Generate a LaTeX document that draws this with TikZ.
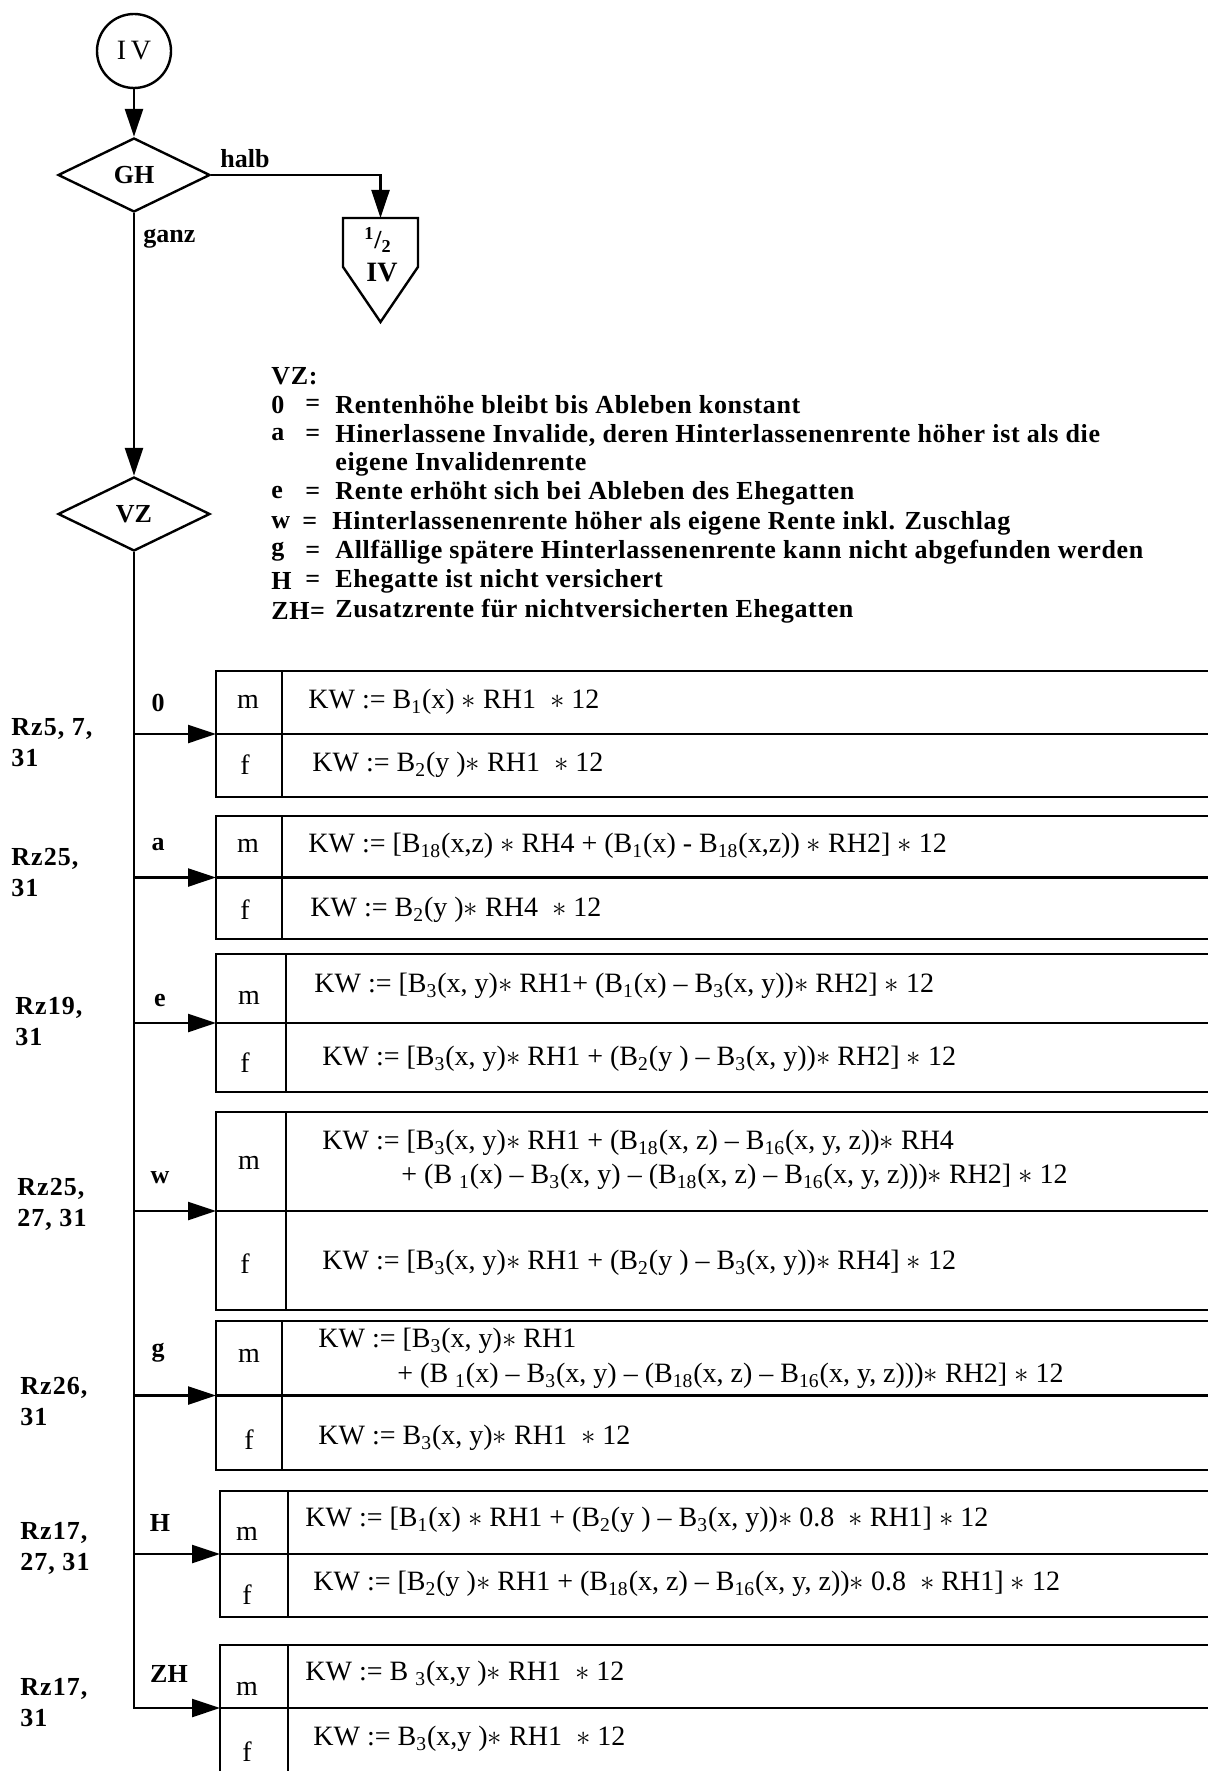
\documentclass[tikz,border=0pt]{standalone}
\usepackage{fontspec}
\setmainfont{Liberation Serif}
\newfontfamily\legfont[LetterSpace=2.5]{Liberation Serif}
\newfontfamily\rzfont[LetterSpace=4]{Liberation Serif}
\usetikzlibrary{arrows.meta,shapes.geometric,calc}
\newcommand\bsub[1]{\textsubscript{#1}}
\newcommand\mstar{$\ast$}
\newcommand\drawtab[2]{%
  \draw[tabline] (#1.north east) -- (#1.north west) -- (#1.south west) -- (#1.south east);
  \draw[tabline] (#1.west) -- (#1.east);
  \draw[tabline] ([xshift=#2]#1.north west) -- ([xshift=#2]#1.south west);}
\begin{document}
\begin{tikzpicture}[x=0.5pt,y=-0.5pt,
  conn/.style={line width=1.2pt},
  arr/.style={conn,-{Triangle[length=14pt,width=9pt]}},
  tabline/.style={line width=1.3pt},
  tabbox/.style={draw=none,rectangle,inner sep=0,outer sep=0,anchor=north west},
  dia/.style={diamond,draw,line width=1.2pt,inner sep=0,minimum width=76pt,minimum height=37pt,font=\fontsize{13}{15}\selectfont\bfseries},
  lbl/.style={inner sep=0,font=\fontsize{13}{15.5}\selectfont\bfseries},
  leg/.style={inner sep=0,anchor=west,font=\legfont\fontsize{13}{14}\selectfont\bfseries},
  frm/.style={inner sep=0,anchor=west,font=\fontsize{14}{16}\selectfont},
  cell/.style={inner sep=0,font=\fontsize{14}{16}\selectfont},
  rz/.style={inner sep=0,anchor=west,align=left,font=\rzfont\fontsize{13}{15.5}\selectfont\bfseries},
]
\useasboundingbox (0,0) rectangle (1208,1771);

% top flow
\node[circle,draw,line width=1.2pt,minimum size=37pt,inner sep=0,font=\fontsize{14}{16}\selectfont] (IV) at (134,51) {I\,V};
\node[dia] (GH) at (134,175) {GH};
\draw[arr] (IV.south) -- (GH.north);
\node[inner sep=0,outer sep=0,minimum width=37.5pt,minimum height=52pt] (half) at (380.5,270) {};
\draw[line width=1.2pt] (half.north west) -- (half.north east)
  -- ($(half.north east)!0.47!(half.south east)$) -- (half.south)
  -- ($(half.north west)!0.47!(half.south west)$) -- cycle;
\node[lbl] (halfnum) at (378,240) {\textsuperscript{1}/\textsubscript{2}};
\node[lbl,font=\fontsize{14}{16}\selectfont\bfseries] (halfiv) at (382,273) {IV};
\draw[arr] (GH.east) -| (half.north);
\node[lbl,anchor=west] (halb) at (220,159) {halb};
\node[lbl,anchor=west] (ganz) at (143,239) {ganz};
\node[dia] (VZ) at (134,514) {VZ};
\draw[arr] (GH.south) -- (VZ.north);

% legend
\node[leg] (lgh) at (271,376) {VZ:};
\node[leg] (lk0) at (271,405) {0};
\node[leg] (le0) at (305,405) {=};
\node[leg] (lt0) at (335,405) {Rentenhöhe bleibt bis Ableben konstant};
\node[leg] (lka) at (271,435) {a};
\node[leg] (lea) at (305,435) {=};
\node[leg] (lta) at (335,435) {Hinerlassene Invalide, deren Hinterlassenenrente höher ist als die};
\node[leg] (ltb) at (335,464) {eigene Invalidenrente};
\node[leg] (lke) at (271,493) {e};
\node[leg] (lee) at (305,493) {=};
\node[leg] (lte) at (335,493) {Rente erhöht sich bei Ableben des Ehegatten};
\node[leg] (lkw) at (271,523) {w};
\node[leg] (lew) at (302,523) {=};
\node[leg] (ltw) at (332,523) {Hinterlassenenrente höher als eigene Rente inkl. Zuschlag};
\node[leg] (lkg) at (271,552) {g};
\node[leg] (leg) at (305,552) {=};
\node[leg] (ltg) at (335,552) {Allfällige spätere Hinterlassenenrente kann nicht abgefunden werden};
\node[leg] (lkh) at (271,581) {H};
\node[leg] (leh) at (305,581) {=};
\node[leg] (lth) at (335,581) {Ehegatte ist nicht versichert};
\node[leg] (lkz) at (271,611) {ZH=};
\node[leg] (ltz) at (335,611) {Zusatzrente für nichtversicherten Ehegatten};

% tables
\node[tabbox,minimum width=496pt,minimum height=63pt] (T0) at (216,671) {};
\node[tabbox,minimum width=496pt,minimum height=61.5pt] (Ta) at (216,816) {};
\node[tabbox,minimum width=496pt,minimum height=69pt] (Te) at (216,954) {};
\node[tabbox,minimum width=496pt,minimum height=99pt] (Tw) at (216,1112) {};
\node[tabbox,minimum width=496pt,minimum height=74.5pt] (Tg) at (216,1321) {};
\node[tabbox,minimum width=494pt,minimum height=63pt] (TH) at (220,1491) {};
\node[tabbox,minimum width=494pt,minimum height=63pt] (TZ) at (220,1645) {};
\drawtab{T0}{33pt}
\drawtab{Ta}{33pt}
\drawtab{Te}{35pt}
\drawtab{Tw}{35pt}
\drawtab{Tg}{33pt}
\drawtab{TH}{34pt}
\draw[tabline] (TZ.north east) -- (TZ.north west) -- (TZ.south west);
\draw[tabline] (TZ.west) -- (TZ.east);
\draw[tabline] ([xshift=34pt]TZ.north west) -- ([xshift=34pt]TZ.south west);

% cells
\node[cell] (m0) at (248,702) {m};
\node[cell] (f0) at (245,765) {f};
\node[frm] (F0m) at (308,702) {KW := B\bsub{1}(x) \mstar{} RH1 \ \mstar{} 12};
\node[frm] (F0f) at (312,765) {KW := B\bsub{2}(y )\mstar{} RH1 \ \mstar{} 12};
\node[cell] (ma) at (248,846) {m};
\node[cell] (fa) at (245,910) {f};
\node[frm] (Fam) at (308,846) {KW := [B\bsub{18}(x,z) \mstar{} RH4 + (B\bsub{1}(x) - B\bsub{18}(x,z)) \mstar{} RH2] \mstar{} 12};
\node[frm] (Faf) at (310,910) {KW := B\bsub{2}(y )\mstar{} RH4 \ \mstar{} 12};
\node[cell] (me) at (249,998) {m};
\node[cell] (fe) at (245,1063) {f};
\node[frm] (Fem) at (314,986) {KW := [B\bsub{3}(x, y)\mstar{} RH1+ (B\bsub{1}(x) – B\bsub{3}(x, y))\mstar{} RH2] \mstar{} 12};
\node[frm] (Fef) at (322,1059) {KW := [B\bsub{3}(x, y)\mstar{} RH1 + (B\bsub{2}(y ) – B\bsub{3}(x, y))\mstar{} RH2] \mstar{} 12};
\node[cell] (mw) at (249,1163) {m};
\node[cell] (fw) at (245,1264) {f};
\node[frm] (Fwm) at (322,1143) {KW := [B\bsub{3}(x, y)\mstar{} RH1 + (B\bsub{18}(x, z) – B\bsub{16}(x, y, z))\mstar{} RH4};
\node[frm] (Fwn) at (401,1177) {+ (B \bsub{1}(x) – B\bsub{3}(x, y) – (B\bsub{18}(x, z) – B\bsub{16}(x, y, z)))\mstar{} RH2] \mstar{} 12};
\node[frm] (Fwf) at (322,1263) {KW := [B\bsub{3}(x, y)\mstar{} RH1 + (B\bsub{2}(y ) – B\bsub{3}(x, y))\mstar{} RH4] \mstar{} 12};
\node[cell] (mg) at (249,1356) {m};
\node[cell] (fg) at (249,1440) {f};
\node[frm] (Fgm) at (318,1341) {KW := [B\bsub{3}(x, y)\mstar{} RH1};
\node[frm] (Fgn) at (397,1376) {+ (B \bsub{1}(x) – B\bsub{3}(x, y) – (B\bsub{18}(x, z) – B\bsub{16}(x, y, z)))\mstar{} RH2] \mstar{} 12};
\node[frm] (Fgf) at (318,1438) {KW := B\bsub{3}(x, y)\mstar{} RH1 \ \mstar{} 12};
\node[cell] (mH) at (247,1534) {m};
\node[cell] (fH) at (247,1595) {f};
\node[frm] (FHm) at (305,1520) {KW := [B\bsub{1}(x) \mstar{} RH1 + (B\bsub{2}(y ) – B\bsub{3}(x, y))\mstar{} 0.8 \ \mstar{} RH1] \mstar{} 12};
\node[frm] (FHf) at (313,1584) {KW := [B\bsub{2}(y )\mstar{} RH1 + (B\bsub{18}(x, z) – B\bsub{16}(x, y, z))\mstar{} 0.8 \ \mstar{} RH1] \mstar{} 12};
\node[cell] (mZ) at (247,1689) {m};
\node[cell] (fZ) at (247,1752) {f};
\node[frm] (FZm) at (305,1674) {KW := B \bsub{3}(x,y )\mstar{} RH1 \ \mstar{} 12};
\node[frm] (FZf) at (313,1739) {KW := B\bsub{3}(x,y )\mstar{} RH1 \ \mstar{} 12};

% branch labels
\node[lbl] (b0) at (158,703) {0};
\node[lbl] (ba) at (158,845) {a};
\node[lbl] (be) at (160,1000) {e};
\node[lbl] (bw) at (160,1178) {w};
\node[lbl] (bg) at (158,1353) {g};
\node[lbl] (bH) at (160,1523) {H};
\node[lbl] (bZ) at (169,1674) {ZH};

% Rz references
\node[rz] (r0) at (11,743) {Rz5, 7,\\31};
\node[rz] (ra) at (11,873) {Rz25,\\31};
\node[rz] (re) at (15,1022) {Rz19,\\31};
\node[rz] (rw) at (17,1204) {Rz25,\\27, 31};
\node[rz] (rg) at (20,1402) {Rz26,\\31};
\node[rz] (rH) at (20,1548) {Rz17,\\27, 31};
\node[rz] (rZ) at (20,1703) {Rz17,\\31};

% connectors
\draw[arr] (VZ.south) |- (TZ.west);
\draw[arr] (VZ.south |- T0.west) -- (T0.west);
\draw[arr] (VZ.south |- Ta.west) -- (Ta.west);
\draw[arr] (VZ.south |- Te.west) -- (Te.west);
\draw[arr] (VZ.south |- Tw.west) -- (Tw.west);
\draw[arr] (VZ.south |- Tg.west) -- (Tg.west);
\draw[arr] (VZ.south |- TH.west) -- (TH.west);
\end{tikzpicture}
\end{document}
